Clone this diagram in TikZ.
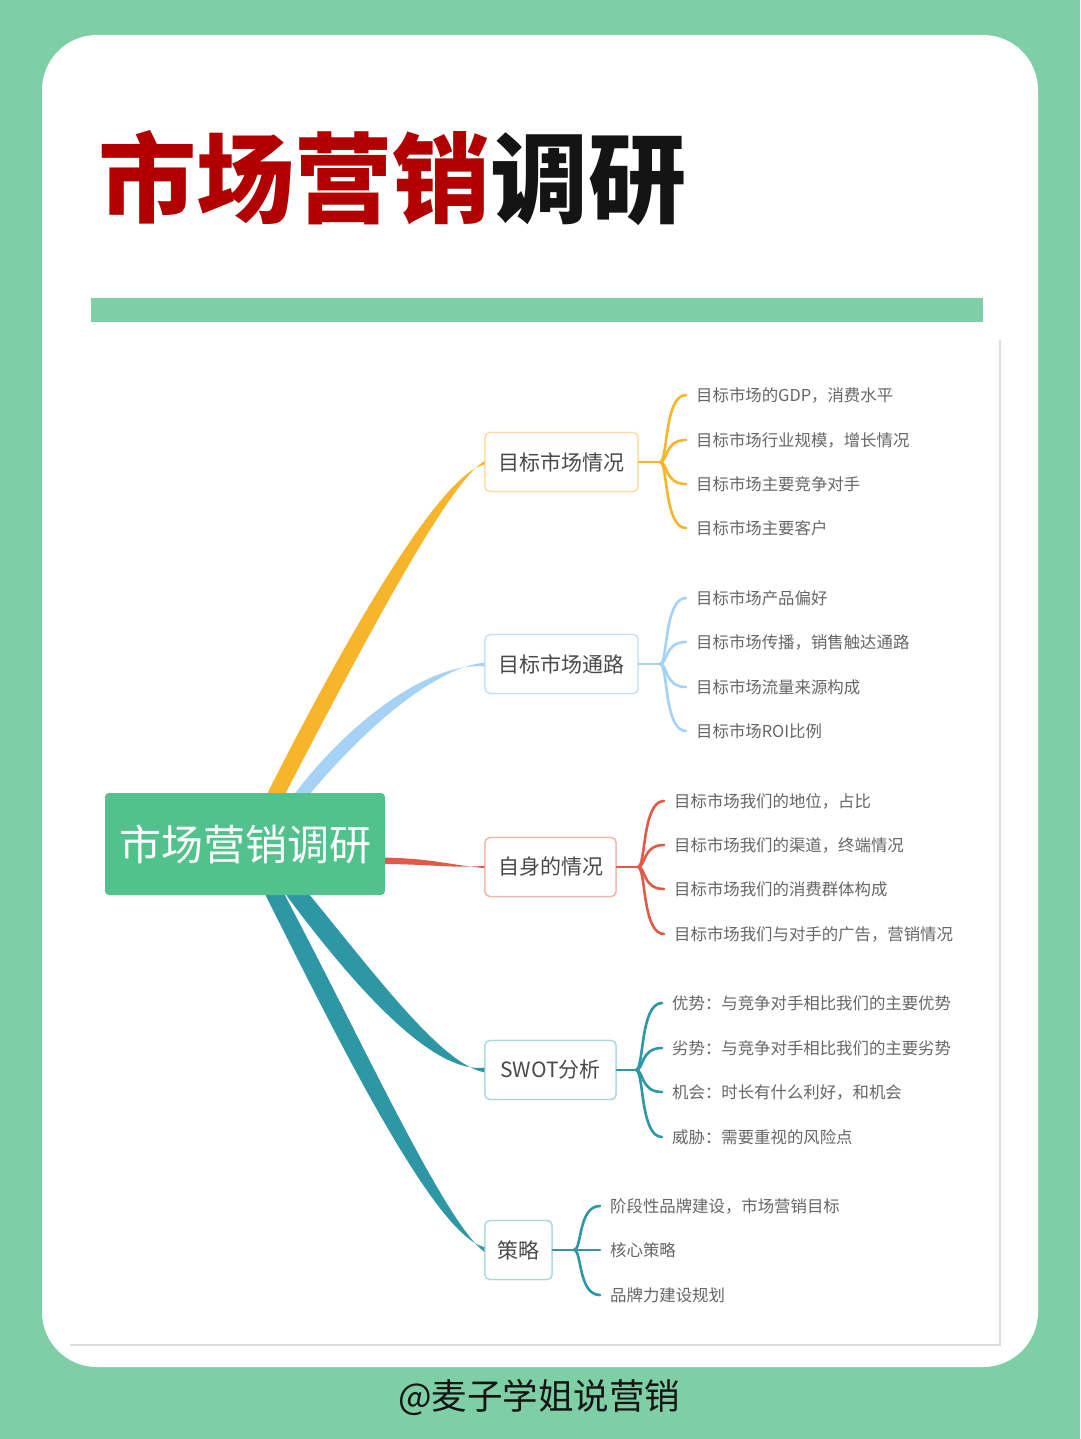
\documentclass[tikz,border=0pt]{standalone}
\usepackage{fontspec}
\setmainfont{Noto Sans CJK SC}
\newfontfamily\cjk{Noto Sans CJK SC}
\usetikzlibrary{calc}
\definecolor{bggreen}{HTML}{7ECEA6}
\definecolor{rootgreen}{HTML}{52C28C}
\definecolor{titlered}{HTML}{B20000}
\definecolor{titleblack}{HTML}{141414}
\definecolor{corange}{HTML}{F6B52A}
\definecolor{cblue}{HTML}{A6D2F6}
\definecolor{cred}{HTML}{E05A48}
\definecolor{cteal}{HTML}{2E97A5}
\definecolor{lorange}{HTML}{F8DCA0}
\definecolor{lblue}{HTML}{C2E1F8}
\definecolor{lred}{HTML}{F2B3AA}
\definecolor{lteal}{HTML}{A9D7DD}
\definecolor{leafgray}{HTML}{666666}
\definecolor{branchgray}{HTML}{4A4A4A}
\definecolor{framegray}{HTML}{DDDDDD}
\begin{document}
\begin{tikzpicture}[x=1pt,y=-1pt,
  leaf/.style={anchor=west,inner sep=0pt,font=\fontsize{16.4}{18}\selectfont,text=leafgray},
  branch/.style={draw,rounded corners=5pt,line width=1.3pt,fill=white,inner sep=0pt,
    minimum height=59pt,font=\fontsize{21}{24}\selectfont,text=branchgray},
  brace/.style={line width=2.6pt,line cap=round},
]
\useasboundingbox (0,0) rectangle (1080,1439);
\fill[bggreen] (0,0) rectangle (1080,1439);
\fill[white,rounded corners=55pt] (42,35) rectangle (1038,1367);

% title
\node[anchor=base west,inner sep=0pt,font=\fontsize{98}{100}\selectfont\bfseries] (title) at (98,216)
  {\textcolor{titlered}{市场营销}\textcolor{titleblack}{调研}};
\fill[bggreen] (91,298) rectangle (983,322);

% mindmap frame
\draw[framegray,line width=1.5pt] (1000,340) -- (1000,1345) -- (70,1345);

% branch boxes
\node[branch,draw=lorange,minimum width=153pt] (b1) at (561.5,462) {目标市场情况};
\node[branch,draw=lblue,minimum width=153pt] (b2) at (561.5,664) {目标市场通路};
\node[branch,draw=lred,minimum width=131pt] (b3) at (550.5,867) {自身的情况};
\node[branch,draw=lteal,minimum width=131pt] (b4) at (550.5,1070) {SWOT分析};
\node[branch,draw=lteal,minimum width=67pt] (b5) at (518.5,1250) {策略};

% thick tapered branches (under the root box)
\fill[corange] (264,800) .. controls (362,605) and (446,471) .. ([xshift=1pt,yshift=-2.5pt]b1.west)
  -- ([xshift=1pt,yshift=1.5pt]b1.west) .. controls (452,479) and (378,615) .. (282,800) -- cycle;
\fill[cblue] (290,800) .. controls (347,722) and (430,661) .. ([xshift=1pt,yshift=-2.5pt]b2.west)
  -- ([xshift=1pt,yshift=1.5pt]b2.west) .. controls (435,667) and (362,730) .. (305,800) -- cycle;
\fill[cred] (380,857.5) .. controls (430,858) and (450,865) .. ([xshift=1pt,yshift=-1.2pt]b3.west)
  -- ([xshift=1pt,yshift=1.2pt]b3.west) .. controls (450,868.5) and (430,864) .. (380,864) -- cycle;
\fill[cteal] (281,888) .. controls (356,990) and (434,1075) .. ([xshift=1pt,yshift=2.5pt]b4.west)
  -- ([xshift=1pt,yshift=-2.5pt]b4.west) .. controls (442,1065) and (378,978) .. (304,888) -- cycle;
\fill[cteal] (262,888) .. controls (340,1044) and (435,1236) .. ([xshift=1pt,yshift=2.5pt]b5.west)
  -- ([xshift=1pt,yshift=-2.5pt]b5.west) .. controls (446,1226) and (360,1036) .. (281,888) -- cycle;

% root
\node[fill=rootgreen,rounded corners=4pt,minimum width=280pt,minimum height=102pt,inner sep=0pt,
  text=white,font=\fontsize{42}{44}\selectfont] (root) at (245,844) {市场营销调研};

% redraw branch boxes on top of the tapered ends
\node[branch,draw=lorange,minimum width=153pt] at (b1) {目标市场情况};
\node[branch,draw=lblue,minimum width=153pt] at (b2) {目标市场通路};
\node[branch,draw=lred,minimum width=131pt] at (b3) {自身的情况};
\node[branch,draw=lteal,minimum width=131pt] at (b4) {SWOT分析};
\node[branch,draw=lteal,minimum width=67pt] at (b5) {策略};

% leaves group 1
\node[leaf] (l11) at (696,395) {目标市场的GDP，消费水平};
\node[leaf] (l12) at (696,440) {目标市场行业规模，增长情况};
\node[leaf] (l13) at (696,484) {目标市场主要竞争对手};
\node[leaf] (l14) at (696,528) {目标市场主要客户};
\coordinate (j1) at (660,462);
\draw[brace,corange] (b1.east) -- (j1);
\foreach \n in {l11,l12,l13,l14}
  \draw[brace,corange] (j1) .. controls +(8,0) and +(-22,0) .. ([xshift=-10pt]\n.west);

% leaves group 2
\node[leaf] (l21) at (696,598) {目标市场产品偏好};
\node[leaf] (l22) at (696,642) {目标市场传播，销售触达通路};
\node[leaf] (l23) at (696,687) {目标市场流量来源构成};
\node[leaf] (l24) at (696,731) {目标市场ROI比例};
\coordinate (j2) at (660,664);
\draw[brace,cblue] (b2.east) -- (j2);
\foreach \n in {l21,l22,l23,l24}
  \draw[brace,cblue] (j2) .. controls +(8,0) and +(-22,0) .. ([xshift=-10pt]\n.west);

% leaves group 3
\node[leaf] (l31) at (674,801) {目标市场我们的地位，占比};
\node[leaf] (l32) at (674,845) {目标市场我们的渠道，终端情况};
\node[leaf] (l33) at (674,889) {目标市场我们的消费群体构成};
\node[leaf] (l34) at (674,934) {目标市场我们与对手的广告，营销情况};
\coordinate (j3) at (638,867);
\draw[brace,cred] (b3.east) -- (j3);
\foreach \n in {l31,l32,l33,l34}
  \draw[brace,cred] (j3) .. controls +(8,0) and +(-22,0) .. ([xshift=-10pt]\n.west);

% leaves group 4
\node[leaf] (l41) at (672,1003) {优势：与竞争对手相比我们的主要优势};
\node[leaf] (l42) at (672,1048) {劣势：与竞争对手相比我们的主要劣势};
\node[leaf] (l43) at (672,1092) {机会：时长有什么利好，和机会};
\node[leaf] (l44) at (672,1137) {威胁：需要重视的风险点};
\coordinate (j4) at (636,1070);
\draw[brace,cteal] (b4.east) -- (j4);
\foreach \n in {l41,l42,l43,l44}
  \draw[brace,cteal] (j4) .. controls +(8,0) and +(-22,0) .. ([xshift=-10pt]\n.west);

% leaves group 5
\node[leaf] (l51) at (610,1206) {阶段性品牌建设，市场营销目标};
\node[leaf] (l52) at (610,1250) {核心策略};
\node[leaf] (l53) at (610,1295) {品牌力建设规划};
\coordinate (j5) at (574,1250);
\draw[brace,cteal] (b5.east) -- (j5);
\foreach \n in {l51,l52,l53}
  \draw[brace,cteal] (j5) .. controls +(8,0) and +(-22,0) .. ([xshift=-10pt]\n.west);

% watermark
\node[anchor=west,inner sep=0pt,text=titleblack,font=\fontsize{35.5}{38}\selectfont] (wm) at (398,1397) {@麦子学姐说营销};
\end{tikzpicture}
\end{document}
